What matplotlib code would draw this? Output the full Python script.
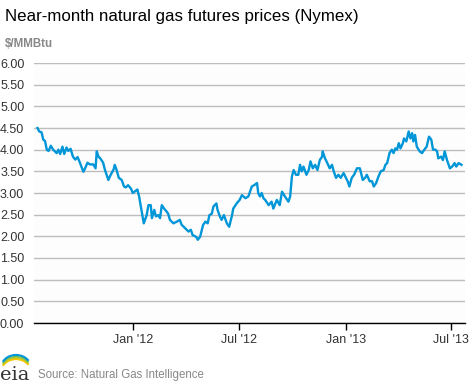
import matplotlib
matplotlib.use("Agg")
import matplotlib.pyplot as plt
from matplotlib.patches import Arc
import pandas as pd

plt.rcParams['font.family'] = ['Liberation Sans', 'DejaVu Sans']

dates = [
    "2011-07-20", "2011-07-23", "2011-07-27", "2011-07-30", "2011-08-02", "2011-08-05",
    "2011-08-08", "2011-08-12", "2011-08-16", "2011-08-22", "2011-08-25", "2011-08-28",
    "2011-09-01", "2011-09-04", "2011-09-08", "2011-09-11", "2011-09-15", "2011-09-19",
    "2011-09-23", "2011-09-27", "2011-10-01", "2011-10-07", "2011-10-10", "2011-10-14",
    "2011-10-18", "2011-10-24", "2011-10-28", "2011-10-30", "2011-11-02", "2011-11-05",
    "2011-11-10", "2011-11-13", "2011-11-16", "2011-11-19", "2011-11-23", "2011-11-28",
    "2011-11-30", "2011-12-03", "2011-12-07", "2011-12-12", "2011-12-16", "2011-12-19",
    "2011-12-23", "2011-12-28", "2011-12-31", "2012-01-04", "2012-01-08", "2012-01-11",
    "2012-01-13", "2012-01-19", "2012-01-24", "2012-01-27", "2012-01-31", "2012-02-02",
    "2012-02-06", "2012-02-09", "2012-02-13", "2012-02-16", "2012-02-19", "2012-02-23",
    "2012-02-28", "2012-03-01", "2012-03-04", "2012-03-10", "2012-03-16", "2012-03-21",
    "2012-03-24", "2012-03-30", "2012-04-05", "2012-04-09", "2012-04-12", "2012-04-18",
    "2012-04-21", "2012-04-25", "2012-04-30", "2012-05-04", "2012-05-08", "2012-05-11",
    "2012-05-15", "2012-05-18", "2012-05-23", "2012-05-25", "2012-05-29", "2012-06-01",
    "2012-06-05", "2012-06-10", "2012-06-14", "2012-06-19", "2012-06-21", "2012-06-27",
    "2012-07-02", "2012-07-06", "2012-07-12", "2012-07-17", "2012-07-23", "2012-07-27",
    "2012-08-01", "2012-08-03", "2012-08-06", "2012-08-09", "2012-08-12", "2012-08-15",
    "2012-08-21", "2012-08-26", "2012-08-29", "2012-09-04", "2012-09-09", "2012-09-13",
    "2012-09-18", "2012-09-24", "2012-09-27", "2012-09-30", "2012-10-03", "2012-10-07",
    "2012-10-11", "2012-10-14", "2012-10-17", "2012-10-20", "2012-10-25", "2012-10-29",
    "2012-11-01", "2012-11-05", "2012-11-09", "2012-11-13", "2012-11-17", "2012-11-21",
    "2012-11-22", "2012-11-26", "2012-11-30", "2012-12-04", "2012-12-08", "2012-12-11",
    "2012-12-15", "2012-12-19", "2012-12-23", "2012-12-28", "2012-12-31", "2013-01-04",
    "2013-01-07", "2013-01-11", "2013-01-15", "2013-01-20", "2013-01-25", "2013-01-27",
    "2013-01-30", "2013-02-03", "2013-02-06", "2013-02-11", "2013-02-15", "2013-02-18",
    "2013-02-22", "2013-02-26", "2013-03-02", "2013-03-07", "2013-03-10", "2013-03-13",
    "2013-03-17", "2013-03-21", "2013-03-24", "2013-03-27", "2013-03-30", "2013-04-02",
    "2013-04-05", "2013-04-09", "2013-04-11", "2013-04-15", "2013-04-19", "2013-04-22",
    "2013-04-25", "2013-04-27", "2013-04-30", "2013-05-03", "2013-05-08", "2013-05-12",
    "2013-05-16", "2013-05-20", "2013-05-24", "2013-05-28", "2013-05-31", "2013-06-04",
    "2013-06-07", "2013-06-09", "2013-06-14", "2013-06-17", "2013-06-20", "2013-06-24",
    "2013-06-29", "2013-07-03", "2013-07-07", "2013-07-10", "2013-07-14", "2013-07-19",
]
prices = [
    4.50, 4.42, 4.40, 4.23, 4.20, 4.00,
    3.97, 4.09, 4.00, 3.92, 4.00, 3.90,
    4.07, 3.90, 4.05, 3.97, 4.02, 3.84,
    3.77, 3.83, 3.70, 3.49, 3.57, 3.70,
    3.66, 3.66, 3.57, 3.96, 3.84, 3.80,
    3.70, 3.54, 3.42, 3.30, 3.42, 3.54,
    3.65, 3.54, 3.35, 3.30, 3.15, 3.13,
    3.18, 3.10, 3.00, 3.04, 3.08, 2.92,
    2.76, 2.30, 2.49, 2.72, 2.72, 2.42,
    2.61, 2.46, 2.49, 2.42, 2.72, 2.64,
    2.56, 2.52, 2.38, 2.30, 2.34, 2.38,
    2.27, 2.19, 2.11, 2.15, 2.03, 1.99,
    1.92, 1.99, 2.26, 2.34, 2.30, 2.49,
    2.52, 2.69, 2.76, 2.61, 2.46, 2.38,
    2.49, 2.30, 2.22, 2.49, 2.64, 2.76,
    2.84, 2.95, 2.88, 2.92, 3.15, 3.18,
    3.23, 3.00, 2.92, 3.00, 2.88, 2.84,
    2.72, 2.80, 2.64, 2.84, 2.72, 3.03,
    2.92, 2.80, 2.92, 3.38, 3.53, 3.42,
    3.42, 3.65, 3.50, 3.61, 3.42, 3.53,
    3.73, 3.57, 3.65, 3.53, 3.76, 3.84,
    3.96, 3.80, 3.69, 3.57, 3.65, 3.50,
    3.35, 3.42, 3.35, 3.46, 3.38, 3.27,
    3.15, 3.35, 3.42, 3.57, 3.57, 3.46,
    3.30, 3.35, 3.42, 3.27, 3.27, 3.15,
    3.23, 3.38, 3.50, 3.53, 3.65, 3.69,
    3.92, 4.00, 3.92, 4.03, 4.00, 4.15,
    4.03, 4.15, 4.26, 4.19, 4.42, 4.26,
    4.38, 4.19, 4.34, 4.07, 3.96, 3.92,
    4.00, 4.07, 4.30, 4.23, 4.00, 4.00,
    3.96, 3.80, 3.84, 3.76, 3.96, 3.76,
    3.57, 3.61, 3.69, 3.61, 3.69, 3.65,
]

y_ticks = [0.0, 0.5, 1.0, 1.5, 2.0, 2.5, 3.0, 3.5, 4.0, 4.5, 5.0, 5.5, 6.0]
x_tick_dates = ["2012-01-01", "2012-07-01", "2013-01-01", "2013-07-01"]
x_tick_labels = ["Jan '12", "Jul '12", "Jan '13", "Jul '13"]

title = "Near-month natural gas futures prices (Nymex)"
units = "$/MMBtu"
source = "Source: Natural Gas Intelligence"

fig = plt.figure(figsize=(4.70, 3.83), dpi=100)
fig.patch.set_facecolor("white")
ax = fig.add_axes([34/470, 1 - 323/383, (465 - 34)/470, (323 - 63)/383])
ax.set_facecolor("#fdfdfd")

x = pd.to_datetime(dates)
ax.plot(x, prices, color="#0096d7", lw=1.7, solid_joinstyle="round", zorder=3)

ax.set_ylim(0, 6)
ax.set_yticks(y_ticks)
ax.set_yticklabels([f"{v:.2f}" for v in y_ticks])
ax.set_xlim(pd.Timestamp("2011-07-14"), pd.Timestamp("2013-07-25"))
ax.set_xticks(pd.to_datetime(x_tick_dates))
ax.set_xticklabels(x_tick_labels)

ax.grid(axis="y", color="#bdbdbd", lw=1.0, zorder=0)
ax.set_axisbelow(True)
for s in ["left", "right", "top"]:
    ax.spines[s].set_visible(False)
ax.spines["bottom"].set_color("black")
ax.spines["bottom"].set_linewidth(1.0)
ax.tick_params(axis="y", length=0, pad=7, labelsize=9, labelcolor="#333333")
ax.tick_params(axis="x", length=5, width=1, color="black", pad=3,
               labelsize=9, labelcolor="#333333", direction="out")

fig.text(5/470, 1 - 16/383, title, fontsize=12.2, color="black", va="center", ha="left")
fig.text(5/470, 1 - 44/383, units, fontsize=8.3, color="#888888", va="center",
         ha="left", fontweight="bold")
fig.text(38/470, 1 - 375/383, source, fontsize=8.3, color="#888888", va="center", ha="left")

# eia logo
fig.text(0/470, 1 - 375/383, "eia", fontsize=14, family="DejaVu Serif",
         color="#333333", va="center", ha="left")
for i, c in enumerate(["#f5c400", "#8cc63f", "#0096d7"]):
    arc = Arc((16/470, 1 - (372 - 2*i)/383), 30/470, 26/383,
              theta1=35, theta2=150, color=c, lw=1.6, transform=fig.transFigure)
    fig.add_artist(arc)

fig.savefig("out.png", dpi=100)
